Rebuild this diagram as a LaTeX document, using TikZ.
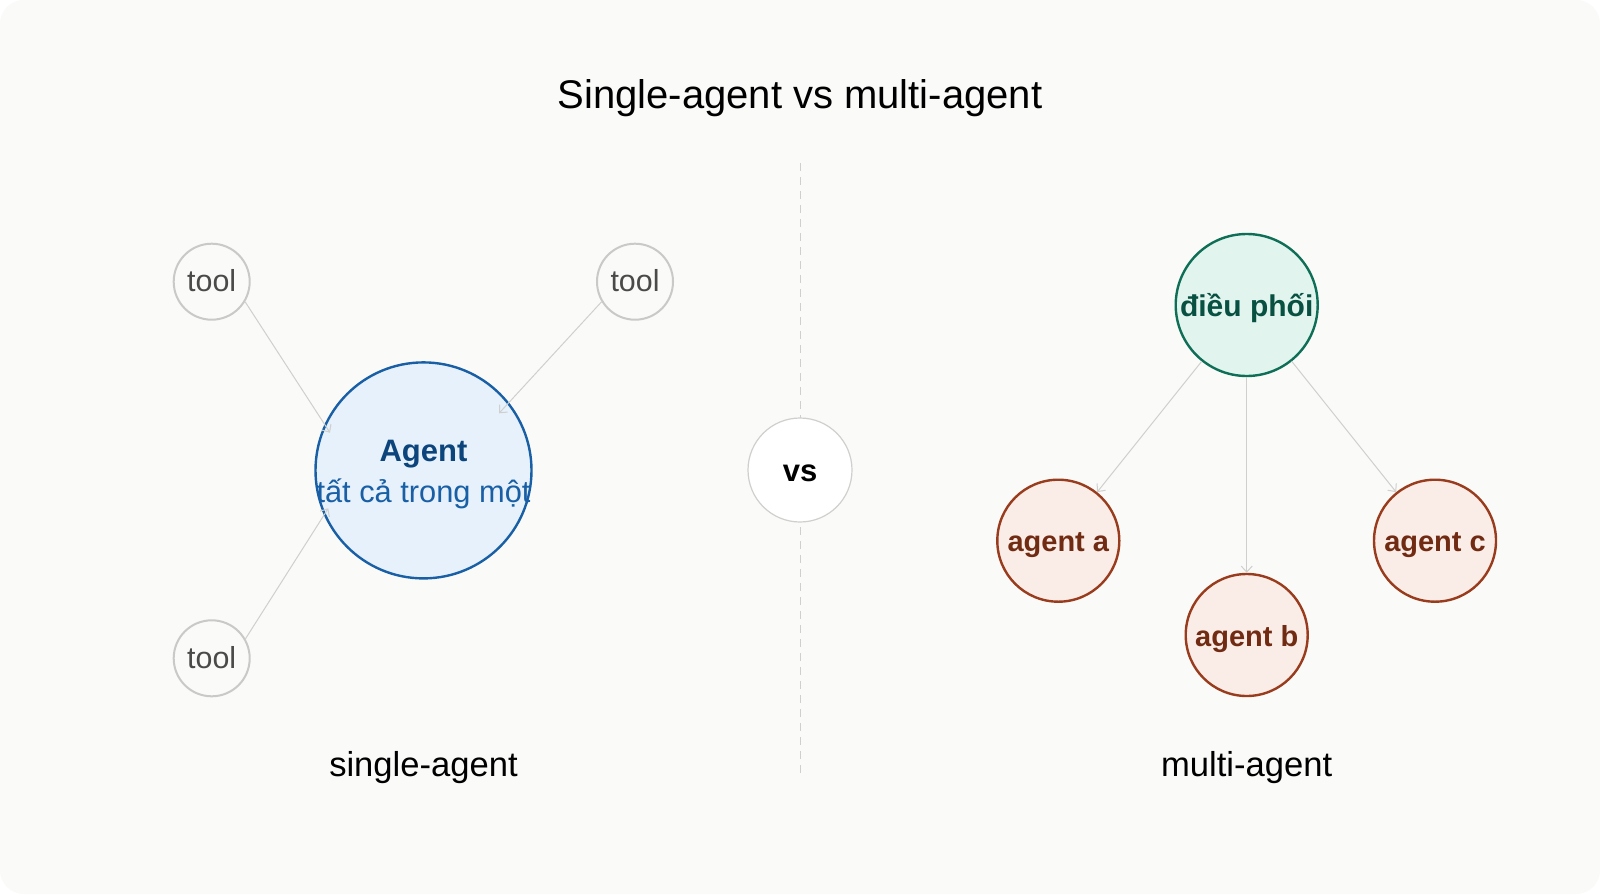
\documentclass[tikz,border=0pt]{standalone}
\usepackage{fontspec}
\setmainfont{Liberation Sans}
\usetikzlibrary{arrows.meta}

\definecolor{paper}{HTML}{FAFAF8}
\definecolor{toolgray}{HTML}{C9C9C7}
\definecolor{tooltext}{HTML}{4A4A48}
\definecolor{linkgray}{HTML}{CFCFCD}
\definecolor{agentfill}{HTML}{E6F1FB}
\definecolor{agentline}{HTML}{185FA5}
\definecolor{agentdark}{HTML}{0C447C}
\definecolor{orchfill}{HTML}{E1F5EE}
\definecolor{orchline}{HTML}{0F6E56}
\definecolor{orchtext}{HTML}{085041}
\definecolor{subfill}{HTML}{FAECE7}
\definecolor{subline}{HTML}{993C1D}
\definecolor{subtext}{HTML}{712B13}

\begin{document}
\begin{tikzpicture}[x=0.5pt,y=-0.5pt,
  every node/.style={inner sep=0pt},
  toolnode/.style={circle,draw=toolgray,line width=1pt,fill=paper,minimum size=38pt,
    text height=10pt,text depth=0pt,text=tooltext,font=\fontsize{15.2}{18}\selectfont},
  agentnode/.style={circle,draw=agentline,line width=1.2pt,fill=agentfill,minimum size=108pt},
  orchnode/.style={circle,draw=orchline,line width=1.2pt,fill=orchfill,minimum size=71pt,
    text height=11.7pt,text depth=0pt,text=orchtext,font=\fontsize{15}{18}\selectfont\bfseries},
  subnode/.style={circle,draw=subline,line width=1.2pt,fill=subfill,minimum size=61pt,
    text height=11pt,text depth=0pt,text=subtext,font=\fontsize{14.5}{17}\selectfont\bfseries},
  vsnode/.style={circle,draw=linkgray,line width=0.6pt,fill=white,minimum size=52pt,
    text height=11.7pt,text depth=0pt,font=\fontsize{15.5}{18}\selectfont\bfseries},
  link/.style={draw=linkgray,line width=0.5pt,-{Straight Barb[length=3pt,width=5.5pt]}},
  caption/.style={anchor=base,font=\fontsize{17.3}{20}\selectfont}]

\fill[white] (0,0) rectangle (1600,894);
\fill[paper,rounded corners=12pt] (0,0) rectangle (1600,894);

\node[anchor=base,font=\fontsize{20}{24}\selectfont] (title) at (800,108.3) {Single-agent vs multi-agent};

\coordinate (divtop) at (800,163);
\coordinate (divbot) at (800,776);
\draw[linkgray,line width=0.5pt,dash pattern=on 4pt off 3pt] (divtop) -- (divbot);

\node[agentnode] (agent) at (423.5,470.4) {};
\node[anchor=base,text=agentdark,font=\fontsize{15.5}{18}\selectfont\bfseries] (agentname) at ([yshift=4.7pt]agent.center) {Agent};
\node[anchor=base,text=agentline,font=\fontsize{15.4}{18}\selectfont] (agentsub) at ([yshift=-15.8pt]agent.center) {tất cả trong một};

\node[toolnode] (tool1) at (211.7,281.7) {tool};
\node[toolnode] (tool2) at (635,281.7) {tool};
\node[toolnode] (tool3) at (211.7,658.3) {tool};

\coordinate (in1) at (330,432.7);
\coordinate (in2) at (499,413.3);
\coordinate (in3) at (328.3,508.3);

\draw[link] (tool1.-31) -- (in1);
\draw[link] (tool2.211) -- (in2);
\draw[link] (tool3.30) -- (in3);

\node[vsnode] (vs) at (800,470) {vs};

\node[orchnode] (orch) at (1246.7,305) {điều phối};
\node[subnode] (suba) at (1058.3,540.7) {agent a};
\node[subnode] (subb) at (1246.7,635) {agent b};
\node[subnode] (subc) at (1435,540.7) {agent c};

\draw[link] (orch) -- (suba);
\draw[link] (orch) -- (subb);
\draw[link] (orch) -- (subc);

\node[caption] (single) at (423.5,776) {single-agent};
\node[caption] (multi) at (1246.7,776) {multi-agent};

\end{tikzpicture}
\end{document}
